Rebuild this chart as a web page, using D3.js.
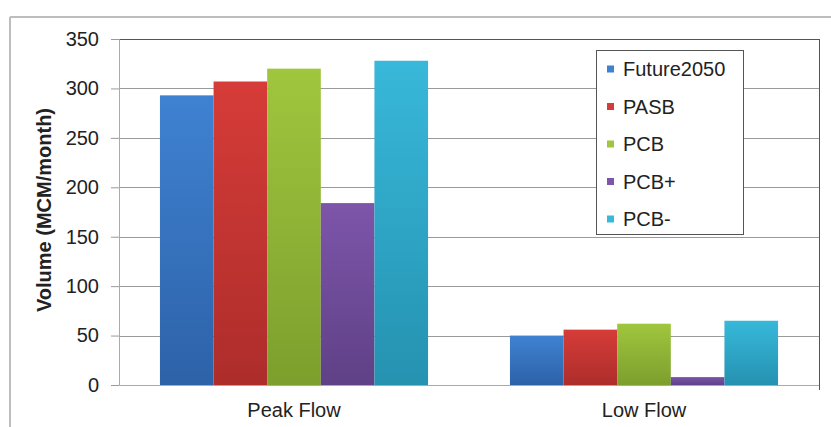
<!DOCTYPE html>
<html>
<head>
<meta charset="utf-8">
<script src="https://cdn.jsdelivr.net/npm/d3@7"></script>
<style>
  body { margin: 0; background: #fff; }
  svg text { font-family: "Liberation Sans", Arial, sans-serif; fill: #222; }
</style>
</head>
<body>
<div id="chart"></div>
<script>
// data
var categories = ['Peak Flow', 'Low Flow'];
var seriesNames = ['Future2050', 'PASB', 'PCB', 'PCB+', 'PCB-'];
var future2050 = [293, 50];
var pasb = [307, 56];
var pcb = [320, 62];
var pcbPlus = [184, 8];
var pcbMinus = [328, 65];
var yTicks = [0, 50, 100, 150, 200, 250, 300, 350];

var seriesValues = [future2050, pasb, pcb, pcbPlus, pcbMinus];
var colors = [
  ['#3f82d2', '#2d62a8'],
  ['#d63c38', '#ad2d2b'],
  ['#a0c63e', '#7c9f2d'],
  ['#7d55aa', '#5f4186'],
  ['#38b8da', '#2592b0']
];

var W = 831, H = 427;
var margin = {top: 39, right: 12, bottom: 42, left: 119};
var width = W - margin.left - margin.right,
    height = H - margin.top - margin.bottom;

var svg = d3.select('#chart').append('svg')
    .attr('width', W)
    .attr('height', H);

var defs = svg.append('defs');
colors.forEach(function (c, i) {
  var g = defs.append('linearGradient')
      .attr('id', 'grad' + i)
      .attr('x1', 0).attr('y1', 0).attr('x2', 0).attr('y2', 1);
  g.append('stop').attr('offset', '0%').attr('stop-color', c[0]);
  g.append('stop').attr('offset', '100%').attr('stop-color', c[1]);
});

// outer frame (top and left only visible)
svg.append('line').attr('x1', 10).attr('x2', W).attr('y1', 17).attr('y2', 17)
    .attr('stroke', '#bdbdbd').attr('stroke-width', 2);
svg.append('line').attr('x1', 10).attr('x2', 10).attr('y1', 17).attr('y2', H)
    .attr('stroke', '#bdbdbd').attr('stroke-width', 2);

var g = svg.append('g')
    .attr('transform', `translate(${margin.left},${margin.top})`);

var y = d3.scaleLinear().domain([0, 350]).range([height, 0]);
var x0 = d3.scaleBand().domain(categories).range([0, width]).paddingInner(0.234).paddingOuter(0.117);
var x1 = d3.scaleBand().domain(seriesNames).range([0, x0.bandwidth()]);

// gridlines
g.append('g').selectAll('line')
    .data(yTicks.filter(d => d > 0))
    .enter().append('line')
    .attr('x1', 0).attr('x2', width)
    .attr('y1', d => Math.round(y(d)) + 0.5).attr('y2', d => Math.round(y(d)) + 0.5)
    .attr('stroke', d => d === 350 ? '#555' : '#9a9a9a')
    .attr('stroke-width', 1);

// y axis
var yAxis = g.append('g')
    .call(d3.axisLeft(y).tickValues(yTicks).tickSize(8).tickPadding(12));
yAxis.select('.domain').attr('stroke', '#aaa');
yAxis.selectAll('.tick line').attr('stroke', '#9a9a9a');
yAxis.selectAll('text').style('font-size', '20px').attr('fill', '#222');

// bars
var groups = g.append('g').selectAll('g')
    .data(categories)
    .enter().append('g')
    .attr('transform', d => `translate(${x0(d)},0)`);

groups.selectAll('rect')
    .data((d, ci) => seriesNames.map((s, si) => ({s: s, i: si, v: seriesValues[si][ci]})))
    .enter().append('rect')
    .attr('x', d => x1(d.s))
    .attr('width', x1.bandwidth())
    .attr('y', d => y(d.v))
    .attr('height', d => height - y(d.v))
    .attr('fill', d => `url(#grad${d.i})`);

// x axis
var xAxis = g.append('g')
    .attr('transform', `translate(0,${height})`)
    .call(d3.axisBottom(x0).tickSize(0).tickPadding(18));
xAxis.select('.domain').attr('stroke', '#aaa');
xAxis.selectAll('text').style('font-size', '20px').attr('fill', '#222');

// right border of plot
g.append('line')
    .attr('x1', width + 0.5).attr('x2', width + 0.5)
    .attr('y1', 0).attr('y2', height + 5)
    .attr('stroke', '#555');

// y title
svg.append('text')
    .attr('transform', `translate(51,${margin.top + height / 2 - 2}) rotate(-90)`)
    .attr('text-anchor', 'middle')
    .style('font-size', '20px')
    .style('font-weight', 'bold')
    .text('Volume (MCM/month)');

// legend
var legend = svg.append('g').attr('transform', 'translate(596,50)');
legend.append('rect')
    .attr('x', 0.5).attr('y', 0.5)
    .attr('width', 147).attr('height', 184)
    .attr('fill', '#fff').attr('stroke', '#555');

var items = legend.selectAll('g.item')
    .data(seriesNames)
    .enter().append('g')
    .attr('class', 'item')
    .attr('transform', (d, i) => `translate(11,${19 + i * 37.5})`);
items.append('rect')
    .attr('x', 0).attr('y', -3.5)
    .attr('width', 7).attr('height', 7)
    .attr('fill', (d, i) => colors[i][0]);
items.append('text')
    .attr('x', 16).attr('dy', '0.36em')
    .style('font-size', '20px')
    .text(d => d);
</script>
</body>
</html>
